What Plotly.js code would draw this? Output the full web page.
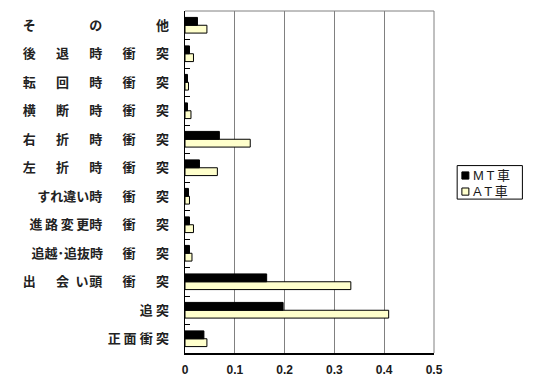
<!DOCTYPE html>
<html><head><meta charset="utf-8">
<script src="https://cdn.plot.ly/plotly-3.0.1.min.js"></script>
<style>html,body{margin:0;padding:0;background:#fff}</style>
</head><body>
<div id="chart" style="width:550px;height:383px"></div>
<script>
// categories bottom -> top
const categories = ['正面衝突','追突','出会い頭衝突','追越・追抜時衝突','進路変更時衝突','すれ違い時衝突','左折時衝突','右折時衝突','横断時衝突','転回時衝突','後退時衝突','その他'];
const G = '\u3000\u2002\u200A';
const tickLabels = [
  '正\u2009面\u2005衝\u2005突',
  '追\u2005突',
  '出'+G+'会\u2002い\u200A頭'+G+'衝'+G+'突',
  '追越･追抜時\u3000\u2002衝'+G+'突',
  '進\u2009路\u2009変\u2009更時'+G+'衝'+G+'突',
  'すれ違い時'+G+'衝'+G+'突',
  '左'+G+'折'+G+'時'+G+'衝'+G+'突',
  '右'+G+'折'+G+'時'+G+'衝'+G+'突',
  '横'+G+'断'+G+'時'+G+'衝'+G+'突',
  '転'+G+'回'+G+'時'+G+'衝'+G+'突',
  '後'+G+'退'+G+'時'+G+'衝'+G+'突',
  'そ'+G+'\u3000'+G+'の'+G+'\u3000'+G+'他'
];
const mtValues = [0.038, 0.197, 0.164, 0.009, 0.009, 0.007, 0.029, 0.069, 0.005, 0.005, 0.009, 0.025];
const atValues = [0.044, 0.409, 0.333, 0.014, 0.017, 0.009, 0.065, 0.131, 0.012, 0.007, 0.017, 0.044];
const seriesNames = ['MT車', 'AT車'];
const seriesColors = ['#000000', '#FFFFCC'];
const xTicks = [0, 0.1, 0.2, 0.3, 0.4, 0.5];

const traces = [
  {type:'bar', orientation:'h', name:seriesNames[1], y:categories, x:atValues,
   marker:{color:seriesColors[1], line:{color:'#000', width:1}}},
  {type:'bar', orientation:'h', name:seriesNames[0], y:categories, x:mtValues,
   marker:{color:seriesColors[0], line:{color:'#000', width:1}}}
];

// custom legend (paper coordinates)
const legX0 = 1.093, legX1 = 1.355, legY0 = 0.45, legY1 = 0.548;
const rowY = [0.519, 0.472];
const symX0 = 1.112, symX1 = 1.140, symH = 0.0105;
const shapes = [
  {type:'line', xref:'paper', yref:'paper', x0:0, x1:1, y0:1, y1:1, line:{color:'#808080', width:1}},
  {type:'line', xref:'paper', yref:'paper', x0:1, x1:1, y0:0, y1:1, line:{color:'#808080', width:1}},
  {type:'rect', xref:'paper', yref:'paper', x0:legX0, x1:legX1, y0:legY0, y1:legY1,
   line:{color:'#000', width:1}, fillcolor:'#fff'}
];
const annotations = [];
seriesNames.forEach((nm, i) => {
  shapes.push({type:'rect', xref:'paper', yref:'paper', x0:symX0, x1:symX1,
    y0:rowY[i]-symH, y1:rowY[i]+symH, line:{color:'#000', width:1}, fillcolor:seriesColors[i]});
  annotations.push({xref:'paper', yref:'paper', x:1.150, y:rowY[i], xanchor:'left', yanchor:'middle',
    text:nm.replace('MT','M\u2009T\u2009').replace('AT','A\u2009T\u2009'), showarrow:false,
    font:{family:'"Liberation Sans", "Noto Sans CJK JP", sans-serif', size:13, color:'#1a1a1a'}});
});

const layout = {
  width:550, height:383,
  margin:{l:185, r:116, t:11, b:30, pad:0},
  paper_bgcolor:'#fff', plot_bgcolor:'#fff',
  barmode:'group', bargap:0.45, bargroupgap:0,
  font:{family:'"Noto Sans CJK JP", "Liberation Sans", sans-serif', color:'#1a1a1a', size:13},
  xaxis:{range:[0,0.5], tickvals:xTicks, ticktext:xTicks.map(String),
    showgrid:true, gridcolor:'#808080', gridwidth:1,
    showline:true, linecolor:'#000', linewidth:1.5, zeroline:false,
    ticks:'', ticklabelstandoff:5,
    tickfont:{family:'"Liberation Sans", Arial, sans-serif', size:12, weight:'bold', color:'#1a1a1a'}},
  yaxis:{type:'category', categoryorder:'array', categoryarray:categories,
    tickvals:categories, ticktext:tickLabels,
    showline:true, linecolor:'#000', linewidth:1.5, showgrid:false, zeroline:false,
    ticks:'inside', tickson:'boundaries', ticklen:5, tickcolor:'#000', tickwidth:1,
    ticklabelstandoff:12,
    tickfont:{family:'"Noto Sans CJK JP", sans-serif', size:13, weight:'bold', color:'#222'}},
  shapes:shapes,
  annotations:annotations,
  showlegend:false
};

Plotly.newPlot('chart', traces, layout, {displayModeBar:false, staticPlot:true});
</script>
</body></html>
